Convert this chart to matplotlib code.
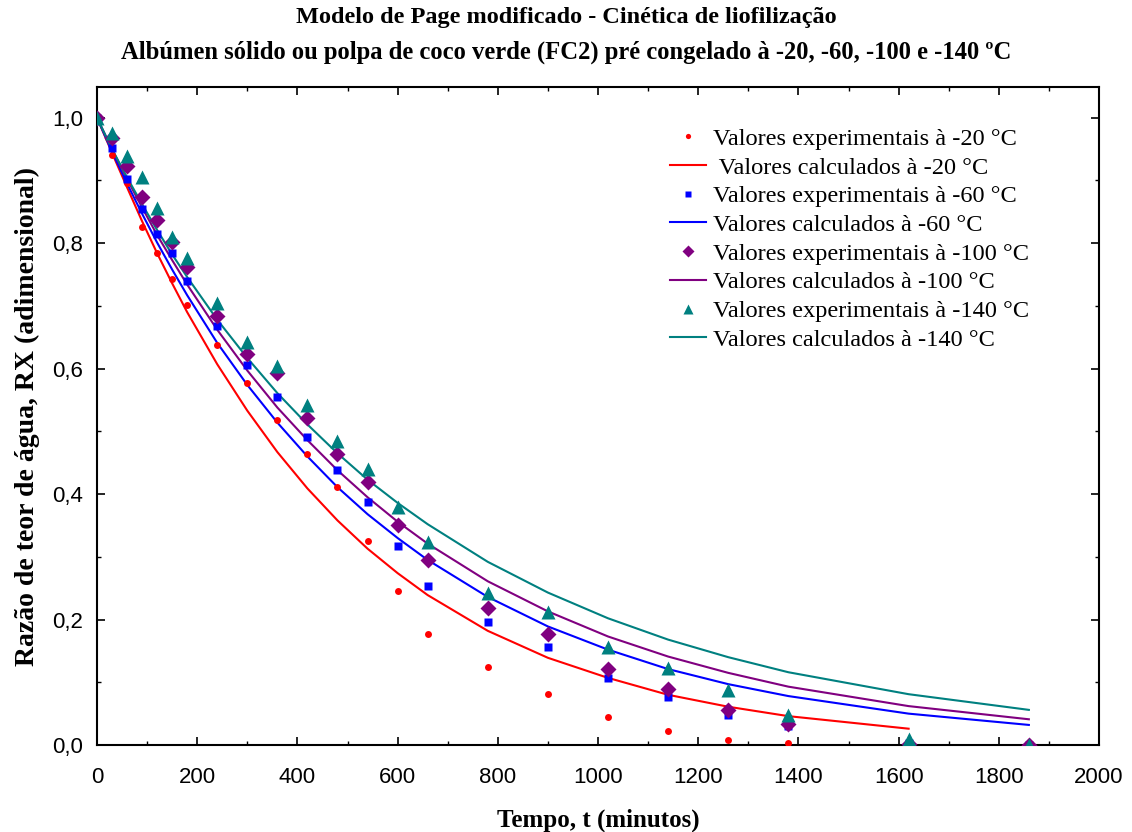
import matplotlib
matplotlib.use('Agg')
import matplotlib.pyplot as plt
from matplotlib.ticker import MultipleLocator, FuncFormatter

# tempos (minutos)
t = [0, 30, 60, 90, 120, 150, 180, 240, 300, 360, 420, 480, 540, 600,
     660, 780, 900, 1020, 1140, 1260, 1380, 1620, 1860]

# valores experimentais (RX)
exp_20 = [1.0, 0.941, 0.896, 0.826, 0.785, 0.743, 0.702, 0.638, 0.577, 0.518,
          0.464, 0.411, 0.325, 0.246, 0.177, 0.124, 0.081, 0.045, 0.022,
          0.008, 0.003, 0.0, 0.0]
exp_60 = [1.0, 0.952, 0.902, 0.854, 0.815, 0.785, 0.740, 0.668, 0.606, 0.555,
          0.491, 0.439, 0.387, 0.317, 0.254, 0.196, 0.156, 0.107, 0.077,
          0.048, 0.030, 0.003, 0.0]
exp_100 = [1.0, 0.968, 0.923, 0.874, 0.837, 0.802, 0.762, 0.684, 0.624, 0.593,
           0.522, 0.464, 0.419, 0.351, 0.295, 0.218, 0.177, 0.121, 0.089,
           0.056, 0.033, 0.002, 0.0]
exp_140 = [1.0, 0.976, 0.939, 0.906, 0.856, 0.810, 0.777, 0.705, 0.643, 0.604,
           0.542, 0.485, 0.440, 0.380, 0.324, 0.242, 0.212, 0.156, 0.123,
           0.088, 0.048, 0.010, 0.0]

# valores calculados (modelo de Page modificado)
t_calc_20 = t[:-1]
calc_20 = [1.0, 0.944, 0.889, 0.835, 0.784, 0.736, 0.690, 0.607, 0.533, 0.467,
           0.409, 0.358, 0.313, 0.274, 0.239, 0.182, 0.139, 0.107, 0.080,
           0.061, 0.046, 0.026]
calc_60 = [1.0, 0.946, 0.895, 0.847, 0.801, 0.758, 0.717, 0.641, 0.574, 0.514,
           0.460, 0.411, 0.368, 0.330, 0.295, 0.236, 0.189, 0.152, 0.121,
           0.097, 0.078, 0.050, 0.032]
calc_100 = [1.0, 0.950, 0.902, 0.857, 0.813, 0.773, 0.734, 0.662, 0.597, 0.538,
            0.486, 0.438, 0.395, 0.356, 0.321, 0.261, 0.213, 0.173, 0.141,
            0.115, 0.093, 0.062, 0.041]
calc_140 = [1.0, 0.950, 0.905, 0.862, 0.821, 0.782, 0.746, 0.678, 0.617, 0.561,
            0.511, 0.465, 0.423, 0.386, 0.352, 0.292, 0.243, 0.202, 0.168,
            0.140, 0.116, 0.081, 0.056]

serif = ['Liberation Serif', 'DejaVu Serif']
plt.rcParams['font.family'] = ['Liberation Sans', 'DejaVu Sans']

fig = plt.figure(figsize=(11.32, 8.32), dpi=100)
ax = fig.add_axes([97 / 1132, 1 - 745 / 832, (1099 - 97) / 1132, (745 - 87) / 832])

ax.plot(t, exp_20, 'o', color='#ff0000', ms=5, mec='none',
        label='Valores experimentais à -20 °C', zorder=3)
ax.plot(t_calc_20, calc_20, '-', color='#ff0000', lw=1.5,
        label=' Valores calculados à -20 °C', zorder=2)
ax.plot(t, exp_60, 's', color='#0000ff', ms=5.5, mec='none',
        label='Valores experimentais à -60 °C', zorder=3)
ax.plot(t, calc_60, '-', color='#0000ff', lw=1.5,
        label='Valores calculados à -60 °C', zorder=2)
ax.plot(t, exp_100, 'D', color='#800080', ms=8, mec='none',
        label='Valores experimentais à -100 °C', zorder=3)
ax.plot(t, calc_100, '-', color='#800080', lw=1.5,
        label='Valores calculados à -100 °C', zorder=2)
ax.plot(t, exp_140, '^', color='#008080', ms=10, mec='none',
        label='Valores experimentais à -140 °C', zorder=3)
ax.plot(t, calc_140, '-', color='#008080', lw=1.5,
        label='Valores calculados à -140 °C', zorder=2)

ax.set_xlim(0, 2000)
ax.set_ylim(0, 1.049)
ax.xaxis.set_major_locator(MultipleLocator(200))
ax.xaxis.set_minor_locator(MultipleLocator(100))
ax.yaxis.set_major_locator(MultipleLocator(0.2))
ax.yaxis.set_minor_locator(MultipleLocator(0.1))
ax.yaxis.set_major_formatter(FuncFormatter(lambda v, p: f'{v:.1f}'.replace('.', ',')))
ax.tick_params(which='both', direction='in', top=True, right=True, labelsize=16)
ax.tick_params(which='major', length=6, width=1.2)
ax.tick_params(which='minor', length=3, width=1)
ax.tick_params(axis='x', pad=16)
ax.tick_params(axis='y', pad=10)
for s in ax.spines.values():
    s.set_linewidth(1.5)

ax.set_xlabel('Tempo, t (minutos)', fontsize=18, fontweight='bold',
              family=serif, labelpad=15)
ax.set_ylabel('Razão de teor de água, RX (adimensional)', fontsize=20,
              fontweight='bold', family=serif, labelpad=9)

fig.text(0.5, 1 - 18 / 832, 'Modelo de Page modificado - Cinética de liofilização',
         ha='center', va='center', fontsize=17.5, fontweight='bold', family=serif)
fig.text(0.5, 1 - 52 / 832,
         'Albúmen sólido ou polpa de coco verde (FC2) pré congelado à -20, -60, -100 e -140 ºC',
         ha='center', va='center', fontsize=17.7, fontweight='bold', family=serif)

ax.legend(loc='upper left', bbox_to_anchor=(563 / 1002, 1 - 31 / 658), frameon=False,
          prop={'family': serif, 'size': 17.6}, handlelength=1.5, handletextpad=0.25,
          labelspacing=0.27, borderaxespad=0, markerscale=0.75)

fig.savefig('out.png', dpi=100)
